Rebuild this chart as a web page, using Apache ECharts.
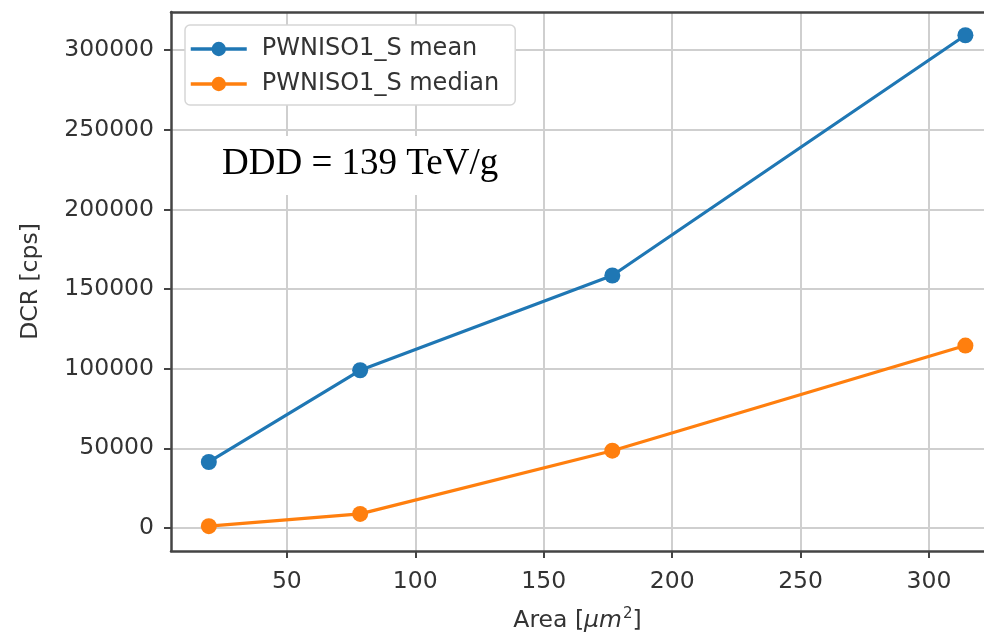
<!DOCTYPE html>
<html>
<head>
<meta charset="utf-8">
<script src="https://cdn.jsdelivr.net/npm/echarts@6/dist/echarts.min.js"></script>
<style>html,body{margin:0;padding:0;background:#fff}#c{width:984px;height:635px}</style>
</head>
<body>
<div id="c"></div>
<script>
const areas = [19.63, 78.54, 176.71, 314.16];
const meanValues = [41400, 99000, 158500, 309400];
const medianValues = [1100, 8800, 48500, 114500];
const xTicks = [50, 100, 150, 200, 250, 300];
const yTicks = [0, 50000, 100000, 150000, 200000, 250000, 300000];
const seriesNames = ['PWNISO1_S mean', 'PWNISO1_S median'];
const annotation = 'DDD = 139 TeV/g';

const chart = echarts.init(document.getElementById('c'));
const font = 'DejaVu Sans';
const tickColor = '#444';
const fs = 23.5;
function pairs(xs, ys){ return xs.map((x,i)=>[x, ys[i]]); }

chart.setOption({
  animation: false,
  backgroundColor: '#fff',
  title: {
    text: annotation,
    left: 204, top: 136,
    backgroundColor: '#fff',
    padding: [10, 18, 12, 18],
    textStyle: {fontFamily: 'Liberation Serif', fontSize: 37, fontWeight: 'normal', color: '#000'}
  },
  legend: {
    orient: 'vertical',
    left: 185, top: 25,
    padding: [12, 16, 9, 4],
    itemGap: 11,
    itemWidth: 56, itemHeight: 18,
    backgroundColor: '#fff',
    borderColor: '#d6d6d6', borderWidth: 1.5, borderRadius: 5,
    lineStyle: {width: 3.5},
    textStyle: {fontFamily: font, fontSize: 24, color: '#333', padding: [0,0,0,10]},
    data: seriesNames
  },
  grid: {
    left: 171, top: 12, bottom: 84, right: 0, show: false,
    outerBoundsMode: 'none', containLabel: false
  },
  xAxis: [{
    type: 'value', min: 4.9, max: 321.4,
    name: 'Area [{i|μm}{s|2}]',
    nameLocation: 'middle', nameGap: 56,
    nameTextStyle: {fontFamily: font, fontSize: fs, color: '#333',
      rich: {i: {fontFamily: font, fontStyle: 'italic', fontSize: fs, color: '#333'},
             s: {fontFamily: font, fontSize: 15, color: '#333', verticalAlign: 'top', padding: [0,0,12,1]}}},
    axisLine: {show: true, onZero: false, lineStyle: {color: tickColor, width: 2.5}},
    axisTick: {show: true, length: 7, lineStyle: {color: tickColor, width: 2}, customValues: xTicks},
    axisLabel: {fontFamily: font, fontSize: fs, color: '#333', margin: 19, customValues: xTicks,
      formatter: v => String(v)},
    splitLine: {show: true, lineStyle: {color: '#cfcfcf', width: 2}, customValues: xTicks}
  }, {
    type: 'value', min: 4.9, max: 321.4, position: 'top',
    axisLine: {show: true, onZero: false, lineStyle: {color: tickColor, width: 2.5}},
    axisTick: {show: false}, axisLabel: {show: false}, splitLine: {show: false}
  }],
  yAxis: {
    type: 'value', min: -14500, max: 324000,
    name: 'DCR [cps]',
    nameLocation: 'middle', nameGap: 128,
    nameTextStyle: {fontFamily: font, fontSize: fs, color: '#333'},
    axisLine: {show: true, onZero: false, lineStyle: {color: tickColor, width: 2.5}},
    axisTick: {show: true, length: 7, lineStyle: {color: tickColor, width: 2}, customValues: yTicks},
    axisLabel: {fontFamily: font, fontSize: fs, color: '#333', margin: 17, customValues: yTicks,
      formatter: v => String(v)},
    splitLine: {show: true, lineStyle: {color: '#cfcfcf', width: 2}, customValues: yTicks}
  },
  series: [
    {name: seriesNames[0], type: 'line', data: pairs(areas, meanValues),
     symbol: 'circle', symbolSize: 16, color: '#1f77b4',
     lineStyle: {width: 3.2}, z: 3},
    {name: seriesNames[1], type: 'line', data: pairs(areas, medianValues),
     symbol: 'circle', symbolSize: 16, color: '#ff7f0e',
     lineStyle: {width: 3.2}, z: 3}
  ]
});
</script>
</body>
</html>
